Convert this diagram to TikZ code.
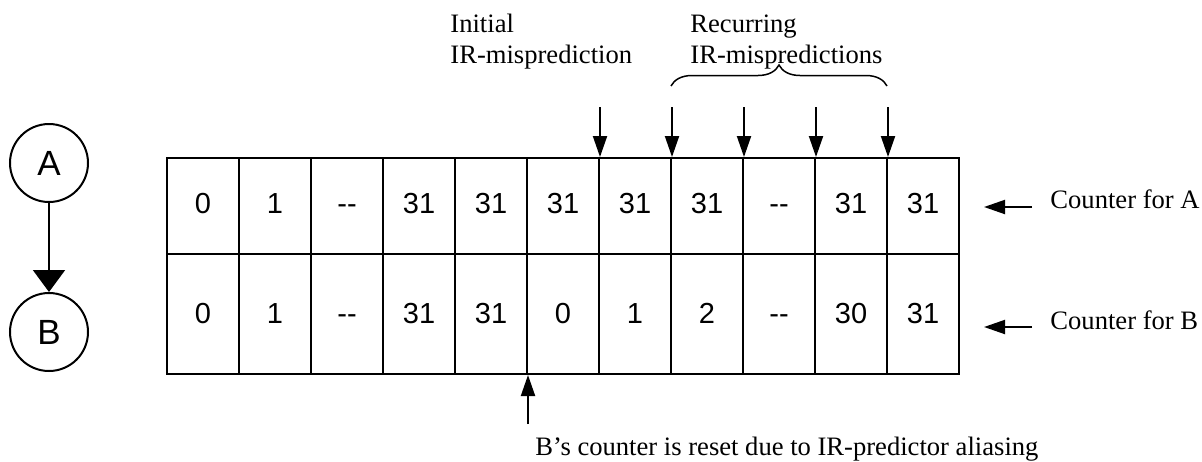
\documentclass[tikz,border=0pt]{standalone}
\usepackage{fontspec}
\setmainfont{Liberation Serif}
\newfontfamily\arialf{Liberation Sans}
\usetikzlibrary{arrows.meta,decorations.pathreplacing,calc}
\begin{document}
\begin{tikzpicture}[x=0.5pt,y=-0.5pt,
  cell/.style={draw,line width=1pt,minimum width=36pt,minimum height=48pt,inner sep=0pt,
    text height=7.5pt,text depth=0pt,
    font=\arialf\fontsize{14.5}{17}\selectfont},
  cellb/.style={cell,minimum height=60pt,text height=9pt},
  vtx/.style={draw,circle,line width=1pt,minimum size=39pt,inner sep=0pt,
    font=\arialf\fontsize{17.5}{20}\selectfont},
  lbl/.style={inner sep=0pt,font=\fontsize{13.3}{15.5}\selectfont},
  ptr/.style={line width=1pt,-{Triangle[length=10.5pt,width=7pt]}},
  bigptr/.style={line width=1pt,-{Triangle[length=11pt,width=16pt]}},
  bracestyle/.style={line width=0.75pt,decorate,decoration={brace,amplitude=10.5pt}},
]
\useasboundingbox (0,0) rectangle (1202,461);

% graph A -> B
\node[vtx] (A) at (49,163) {A};
\node[vtx] (B) at (49,332) {B};
\draw[bigptr] (A) -- (B);

% counter table
\foreach \v [count=\i] in {0,1,-{}-,31,31,31,31,31,-{}-,31,31}
  \node[cell] (a\i) at ({203+72*(\i-1)},206) {\v};
\foreach \v [count=\i] in {0,1,-{}-,31,31,0,1,2,-{}-,30,31}
  \node[cellb] (b\i) at ({203+72*(\i-1)},314) {\v};

% top arrows
\foreach \i in {6,7,8,9,10} {
  \coordinate (t\i) at ($(a\i.north east)+(0,-50)$);
  \draw[ptr] (t\i) -- (a\i.north east);
}

% bottom arrow
\coordinate (u5) at ($(b5.south east)+(0,49)$);
\draw[ptr] (u5) -- (b5.south east);

% labels
\node[lbl,align=left,anchor=north west] (init) at (450,14) {Initial\\IR-misprediction};
\node[lbl,align=left,anchor=north west] (rec) at (690,14) {Recurring\\IR-mispredictions};
\draw[bracestyle] (671,86) -- (887,86);

\node[lbl,anchor=base west] (ctrA) at (1050,208) {Counter for A};
\node[lbl,anchor=base west] (ctrB) at (1050,329) {Counter for B};
\coordinate (pa0) at (1032,207);
\coordinate (pa1) at (984,207);
\coordinate (pb0) at (1032,327);
\coordinate (pb1) at (984,327);
\draw[ptr] (pa0) -- (pa1);
\draw[ptr] (pb0) -- (pb1);

\node[lbl,anchor=base west] (note) at (535,455) {B’s counter is reset due to IR-predictor aliasing};
\end{tikzpicture}
\end{document}
